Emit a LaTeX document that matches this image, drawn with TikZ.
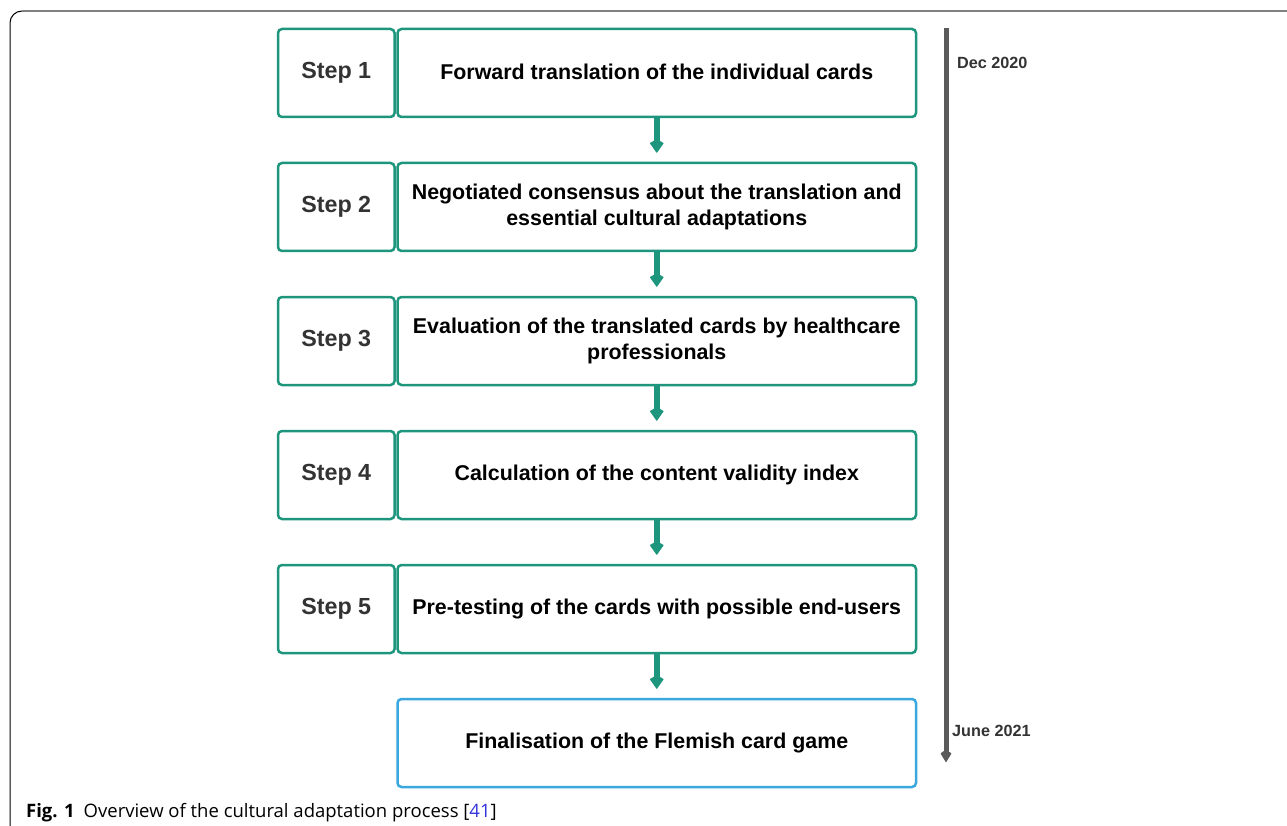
\documentclass[tikz,border=0pt]{standalone}
\usepackage{fontspec}
\setmainfont{Liberation Sans}
\newfontfamily\capfont{Open Sans}
\usetikzlibrary{arrows.meta}
\definecolor{teal1}{RGB}{30,150,125}
\definecolor{blue1}{RGB}{58,168,222}
\definecolor{stepgray}{RGB}{51,51,51}
\definecolor{tlgray}{RGB}{90,90,90}
\definecolor{linkblue}{RGB}{50,50,220}
\tikzset{
  box/.style={draw=teal1, line width=2.5pt, rounded corners=4pt, inner sep=0pt},
  stepbox/.style={box, minimum width=116.5pt, minimum height=88pt, text=stepgray,
    font=\bfseries\fontsize{23.3}{27}\selectfont},
  textbox/.style={box, minimum width=518.5pt, minimum height=88pt, align=center,
    font=\bfseries\fontsize{21.4}{26}\selectfont},
  finalbox/.style={textbox, draw=blue1},
  flow/.style={draw=teal1, line width=6pt, shorten >=9pt,
    -{Kite[length=14pt,width=14pt,inset=4pt,line width=1pt,round]}},
  timeline/.style={draw=tlgray, line width=5pt,
    -{Kite[length=13pt,width=11pt,inset=4pt,line width=1pt,round]}},
  datelabel/.style={anchor=west, text=stepgray, inner sep=0pt,
    font=\bfseries\fontsize{16.2}{19}\selectfont}
}
\begin{document}
\begin{tikzpicture}[x=1pt,y=-1pt]
\useasboundingbox (0,0) rectangle (1287,826);
% frame
\draw[black, line width=1pt] (10,826) -- (10,23) arc[start angle=180,end angle=270,radius=12];
\draw[black!50, line width=1.6pt] (22,11) -- (1287,11);
% steps
\foreach \i/\y in {1/73,2/207,3/341,4/475,5/609}{
  \node[stepbox] (s\i) at (336.25,\y) {Step \i};
}
\node[textbox] (t1) at (656.75,73) {\raisebox{2pt}{Forward translation of the individual cards}};
\node[textbox] (t2) at (656.75,207) {Negotiated consensus about the translation and\\essential cultural adaptations};
\node[textbox] (t3) at (656.75,341) {Evaluation of the translated cards by healthcare\\professionals};
\node[textbox] (t4) at (656.75,475) {\raisebox{2pt}{Calculation of the content validity index}};
\node[textbox] (t5) at (656.75,609) {\raisebox{2pt}{Pre-testing of the cards with possible end-users}};
\node[finalbox] (t6) at (656.75,743) {\raisebox{2pt}{Finalisation of the Flemish card game}};
\foreach \a/\b in {t1/t2,t2/t3,t3/t4,t4/t5,t5/t6}{
  \draw[flow] (\a.south) -- (\b.north);
}
% timeline
\coordinate (tltop) at (946,28);
\coordinate (tlbot) at (946,762);
\draw[timeline] (tltop) -- (tlbot);
\node[datelabel] (d1) at (957,63) {Dec 2020};
\node[datelabel] (d2) at (952,731) {June 2021};
% caption
\node[anchor=base west, inner sep=0pt, font=\capfont\fontsize{18.5}{21}\selectfont] (cap) at (26,817)
  {\textbf{Fig. 1}\hspace{9pt}Overview of the cultural adaptation process [\textcolor{linkblue}{41}]};
\end{tikzpicture}
\end{document}
